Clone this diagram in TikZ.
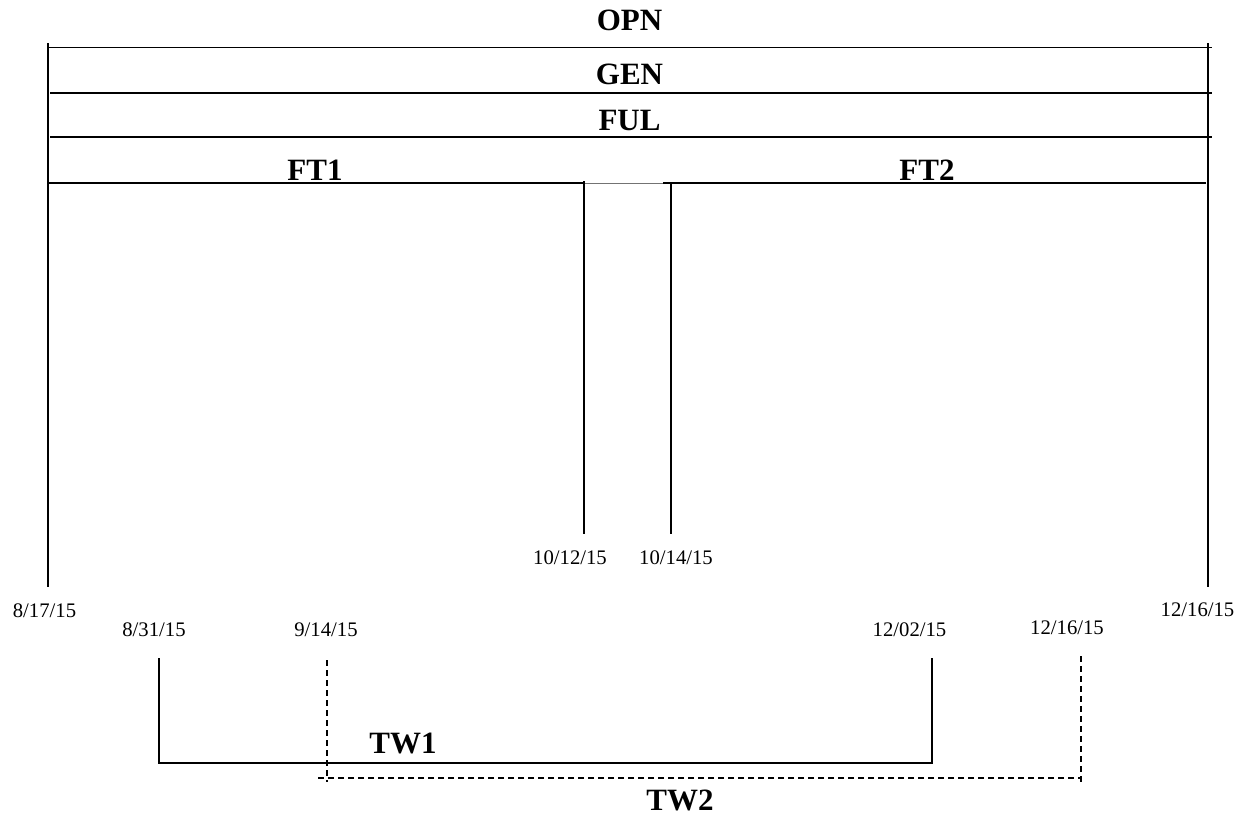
\documentclass[tikz,border=0pt]{standalone}
\usepackage{fontspec}
\setmainfont{Liberation Serif}
\tikzset{
  ln/.style={line width=1.8pt, black},
  dln/.style={line width=1.6pt, black, dash pattern=on 6pt off 4pt},
  title/.style={anchor=base, inner sep=0pt, font=\fontsize{31}{31}\selectfont\bfseries},
  date/.style={anchor=base, inner sep=0pt, font=\fontsize{20.7}{20.7}\selectfont},
}
\begin{document}
\begin{tikzpicture}[x=1pt,y=-1pt]
\useasboundingbox[fill=white] (0,0) rectangle (1249,817);
% frame coordinates
\coordinate (LT) at (48,43);
\coordinate (LB) at (48,587);
\coordinate (RT) at (1208,43);
\coordinate (RB) at (1208,587);
\coordinate (o1) at (48,47.5);   \coordinate (o2) at (1212,47.5);
\coordinate (g1) at (50,92.7);   \coordinate (g2) at (1212,92.7);
\coordinate (f1) at (50,136.7);  \coordinate (f2) at (1212,136.7);
\coordinate (a1) at (48,183.3);  \coordinate (a2) at (584,183.3);
\coordinate (b1) at (663,183.3); \coordinate (b2) at (1205.5,183.3);
\coordinate (m1t) at (584,181);  \coordinate (m1b) at (584,534);
\coordinate (m2t) at (671,183.3);\coordinate (m2b) at (671,534);
% TW coordinates
\coordinate (w1a) at (159,658);  \coordinate (w1b) at (159,763);
\coordinate (w1c) at (932,763);  \coordinate (w1d) at (932,658);
\coordinate (w2a) at (327,660);  \coordinate (w2b) at (327,782);
\coordinate (w2s) at (318,778);  \coordinate (w2c) at (1081,778);
\coordinate (w2d) at (1081,656); \coordinate (w2e) at (1081,782);

\draw[ln] (LT) -- (LB);
\draw[ln] (RT) -- (RB);
\draw[ln] (o1) -- (o2);
\draw[ln] (g1) -- (g2);
\draw[ln] (f1) -- (f2);
\draw[ln] (a1) -- (a2);
\draw[line width=1pt, black!55] (a2) -- (b1);
\draw[ln] (b1) -- (b2);
\draw[ln] (m1t) -- (m1b);
\draw[ln] (m2t) -- (m2b);

\draw[ln] (w1a) -- (w1b) -- (w1c) -- (w1d);
\draw[dln] (w2a) -- (w2b);
\draw[dln] (w2s) -- (w2c);
\draw[dln] (w2d) -- (w2e);

% titles
\node[title] (opn) at (629.5,30) {OPN};
\node[title] (gen) at (629.5,84) {GEN};
\node[title] (ful) at (629.5,130) {FUL};
\node[title] (ft1) at (315,180) {FT1};
\node[title] (ft2) at (927,180) {FT2};
\node[title] (tw1) at (403,753) {TW1};
\node[title] (tw2) at (680,810) {TW2};

% dates
\node[date] (d1012) at (570,564) {10/12/15};
\node[date] (d1014) at (676,564) {10/14/15};
\node[date] (d0817) at (44.5,617) {8/17/15};
\node[date] (d1216r) at (1197.5,616) {12/16/15};
\node[date] (d0831) at (154,636) {8/31/15};
\node[date] (d0914) at (326,636) {9/14/15};
\node[date] (d1202) at (909.5,636) {12/02/15};
\node[date] (d1216) at (1067,634) {12/16/15};
\end{tikzpicture}
\end{document}
